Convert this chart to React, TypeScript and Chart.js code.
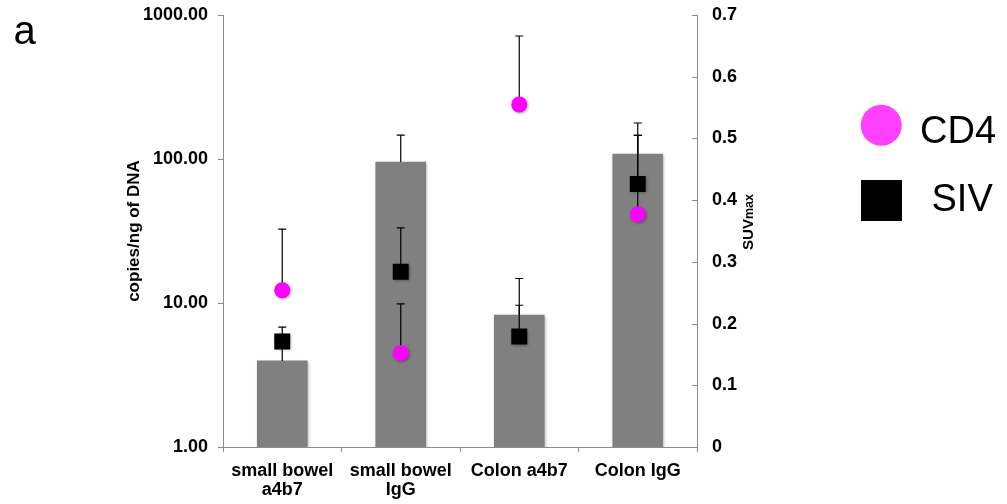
import React, { useEffect, useRef } from 'react';
import { Chart, registerables } from 'chart.js';

Chart.register(...registerables);

// ---- data ----
const categories: (string | string[])[] = [['small bowel', 'a4b7'], ['small bowel', 'IgG'], 'Colon a4b7', 'Colon IgG'];
const copiesValues = [3.96, 95.3, 8.25, 108];
const copiesErrors = [2.85, 51, 1.4, 38];
const cd4Values = [0.254, 0.152, 0.555, 0.377];
const cd4Errors = [0.099, 0.08, 0.111, 0.128];
const sivValues = [0.171, 0.284, 0.179, 0.426];
const sivErrors = [0, 0.071, 0.094, 0.099];
const leftTickValues = [1, 10, 100, 1000];
const rightMin = 0;
const rightMax = 0.7;
const rightStep = 0.1;
const leftTitle = 'copies/ng of DNA';
const rightTitleMain = 'SUV';
const rightTitleSub = 'max';
const panelLetter = 'a';

const FONT = "'Liberation Sans', Arial, Helvetica, sans-serif";
const GRAY = '#8c8c8c';
const MAGENTA = '#ff00ff';

const customPlugin = {
  id: 'customDecor',
  beforeDatasetDraw(chart: any) {
    const ctx = chart.ctx;
    ctx.save();
    ctx.shadowColor = 'rgba(0,0,0,0.35)';
    ctx.shadowBlur = 3;
    ctx.shadowOffsetX = 1;
    ctx.shadowOffsetY = 1;
  },
  afterDatasetDraw(chart: any, args: any) {
    const ctx = chart.ctx;
    ctx.restore();
    if (args.index !== 0) return;
    const xs = chart.scales.x;
    const yl = chart.scales.y;
    const yr = chart.scales.y1;
    ctx.save();
    ctx.strokeStyle = '#000';
    ctx.lineWidth = 1.2;
    const drawErr = (x: number, y0: number, y1: number) => {
      ctx.beginPath();
      ctx.moveTo(x, y0);
      ctx.lineTo(x, y1);
      ctx.moveTo(x - 4, y1);
      ctx.lineTo(x + 4, y1);
      ctx.stroke();
    };
    categories.forEach((_, i) => {
      const x = xs.getPixelForValue(i);
      if (copiesErrors[i] > 0) drawErr(x, yl.getPixelForValue(copiesValues[i]), yl.getPixelForValue(copiesValues[i] + copiesErrors[i]));
      if (cd4Errors[i] > 0) drawErr(x, yr.getPixelForValue(cd4Values[i]), yr.getPixelForValue(cd4Values[i] + cd4Errors[i]));
      if (sivErrors[i] > 0) drawErr(x, yr.getPixelForValue(sivValues[i]), yr.getPixelForValue(sivValues[i] + sivErrors[i]));
    });
    ctx.restore();
  },
  afterDraw(chart: any) {
    const ctx = chart.ctx;
    const area = chart.chartArea;
    const yr = chart.scales.y1;
    ctx.save();
    // inward ticks on right axis
    ctx.strokeStyle = GRAY;
    ctx.lineWidth = 1;
    yr.ticks.forEach((t: any) => {
      const y = Math.round(yr.getPixelForValue(t.value)) + 0.5;
      ctx.beginPath();
      ctx.moveTo(area.right - 5, y);
      ctx.lineTo(area.right, y);
      ctx.stroke();
    });
    // left title
    ctx.fillStyle = '#000';
    ctx.font = `bold 17px ${FONT}`;
    ctx.save();
    ctx.translate(138.5, (area.top + area.bottom) / 2);
    ctx.rotate(-Math.PI / 2);
    ctx.textAlign = 'center';
    ctx.textBaseline = 'alphabetic';
    ctx.fillText(leftTitle, 0, 0);
    ctx.restore();
    // right title
    ctx.save();
    ctx.translate(753, (area.top + area.bottom) / 2 - 9);
    ctx.rotate(-Math.PI / 2);
    ctx.textBaseline = 'alphabetic';
    ctx.textAlign = 'left';
    ctx.font = `bold 15px ${FONT}`;
    const w1 = ctx.measureText(rightTitleMain).width;
    ctx.font = `bold 12.5px ${FONT}`;
    const w2 = ctx.measureText(rightTitleSub).width;
    const start = -(w1 + w2) / 2;
    ctx.font = `bold 15px ${FONT}`;
    ctx.fillText(rightTitleMain, start, 0);
    ctx.font = `bold 12.5px ${FONT}`;
    ctx.fillText(rightTitleSub, start + w1, 0);
    ctx.restore();
    // panel letter
    ctx.font = `40px ${FONT}`;
    ctx.textAlign = 'left';
    ctx.textBaseline = 'alphabetic';
    ctx.fillText(panelLetter, 13.5, 43.5);
    // legend
    const ds = chart.data.datasets;
    ctx.fillStyle = '#ff40ff';
    ctx.beginPath();
    ctx.arc(881.3, 125.3, 20.5, 0, Math.PI * 2);
    ctx.fill();
    ctx.fillStyle = '#000';
    ctx.fillRect(861, 180, 41, 41);
    ctx.font = `38px ${FONT}`;
    ctx.fillText(ds[1].label, 920, 142.5);
    ctx.fillText(ds[2].label, 931.5, 211);
    ctx.restore();
  },
};

export default function App() {
  const canvasRef = useRef<HTMLCanvasElement | null>(null);

  useEffect(() => {
    if (!canvasRef.current) return;
    Chart.defaults.font.family = FONT;
    const tickFont = { family: FONT, size: 18, weight: 'bold' as const };
    const chart = new Chart(canvasRef.current, {
      type: 'bar',
      data: {
        labels: categories,
        datasets: [
          {
            type: 'bar',
            label: 'copies/ng of DNA',
            data: copiesValues,
            yAxisID: 'y',
            backgroundColor: '#808080',
            borderWidth: 0,
            barThickness: 50,
            order: 3,
          },
          {
            type: 'line',
            label: 'CD4',
            data: cd4Values,
            yAxisID: 'y1',
            showLine: false,
            pointStyle: 'circle',
            pointRadius: 8,
            pointBackgroundColor: MAGENTA,
            pointBorderColor: MAGENTA,
            pointBorderWidth: 0,
            order: 2,
          },
          {
            type: 'line',
            label: 'SIV',
            data: sivValues,
            yAxisID: 'y1',
            showLine: false,
            pointStyle: 'rect',
            pointRadius: 11.3,
            pointBackgroundColor: '#000',
            pointBorderColor: '#000',
            pointBorderWidth: 0,
            order: 1,
          },
        ] as any,
      },
      options: {
        responsive: false,
        animation: false,
        layout: { padding: { left: 0, right: 250, top: 15, bottom: 0 } },
        plugins: { legend: { display: false }, tooltip: { enabled: false } },
        scales: {
          x: {
            offset: true,
            grid: { offset: true, drawOnChartArea: false, drawTicks: true, tickLength: 5, color: GRAY },
            border: { display: true, color: GRAY, width: 1 },
            ticks: { color: '#000', font: { ...tickFont, lineHeight: 1.05 }, padding: 10, maxRotation: 0, autoSkip: false },
            afterFit: (s: any) => { s.height = 57; s.paddingLeft = 0; s.paddingRight = 0; },
          },
          y: {
            type: 'logarithmic',
            position: 'left',
            min: 1,
            max: 1000,
            grid: { drawOnChartArea: false, drawTicks: true, tickLength: 5, color: GRAY },
            border: { display: true, color: GRAY, width: 1 },
            ticks: {
              color: '#000',
              font: tickFont,
              padding: 10,
              callback: (v: any) => Number(v).toFixed(2),
            },
            afterBuildTicks: (s: any) => { s.ticks = leftTickValues.map((v) => ({ value: v, major: true })); },
            afterFit: (s: any) => { s.width = 223; s.paddingTop = 0; s.paddingBottom = 0; },
          },
          y1: {
            type: 'linear',
            position: 'right',
            min: rightMin,
            max: rightMax,
            grid: { drawOnChartArea: false, drawTicks: false },
            border: { display: true, color: GRAY, width: 1 },
            ticks: {
              stepSize: rightStep,
              color: '#000',
              font: tickFont,
              padding: 15,
              callback: (v: any) => (Number(v) === 0 ? '0' : Number(v).toFixed(1)),
            },
            afterFit: (s: any) => { s.width = 60; s.paddingTop = 0; s.paddingBottom = 0; },
          },
        },
      } as any,
      plugins: [customPlugin],
    });
    return () => chart.destroy();
  }, []);

  return (
    <div style={{ position: 'absolute', left: 0, top: 0, width: 1007, height: 504, background: '#fff' }}>
      <canvas ref={canvasRef} width={1007} height={504} style={{ display: 'block' }} />
    </div>
  );
}
